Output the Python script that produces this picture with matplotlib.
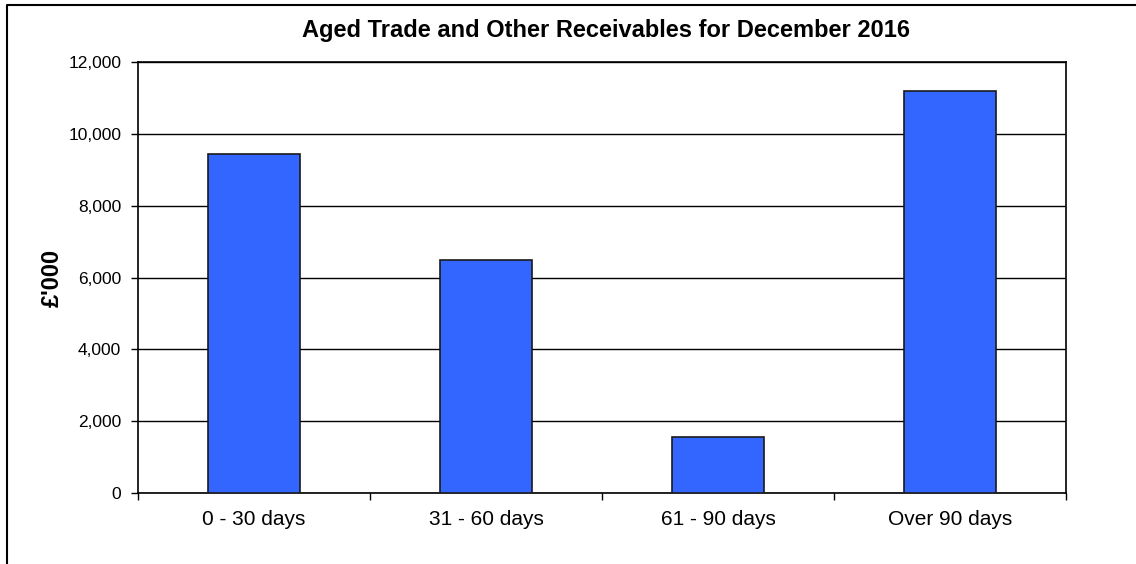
import matplotlib.pyplot as plt
from matplotlib.lines import Line2D
from matplotlib.ticker import FuncFormatter

categories = ['0 - 30 days', '31 - 60 days', '61 - 90 days', 'Over 90 days']
values = [9450, 6480, 1550, 11200]

plt.rcParams['font.family'] = ['Liberation Sans', 'DejaVu Sans']

fig = plt.figure(figsize=(11.36, 5.64), dpi=100)
ax = fig.add_axes([138 / 1136, 1 - 493 / 564, (1066 - 138) / 1136, (493 - 62) / 564])

# outer chart frame (only left and top edges fall inside the image)
fig.add_artist(Line2D([7 / 1136, 7 / 1136, 1.0], [0.0, 1 - 5 / 564, 1 - 5 / 564],
                      transform=fig.transFigure, color='black', lw=1.5))

x = range(len(categories))
ax.bar(x, values, width=0.4, color='#3366FF', edgecolor='#1a1a1a', linewidth=1.2, zorder=3)

ax.set_xlim(-0.5, len(categories) - 0.5)
ax.set_ylim(0, 12000)
ax.set_yticks(range(0, 12001, 2000))
ax.yaxis.set_major_formatter(FuncFormatter(lambda v, p: f'{int(v):,}'))
ax.grid(axis='y', color='black', lw=1, zorder=0)

ax.set_xticks(list(x))
ax.set_xticklabels(categories, fontsize=15)
ax.set_xticks([i - 0.5 for i in range(len(categories) + 1)], minor=True)
ax.tick_params(axis='x', which='major', length=0, pad=12)
ax.tick_params(axis='x', which='minor', length=5, width=1, direction='out')
ax.tick_params(axis='y', length=5, width=1, direction='out', labelsize=12.5, pad=7)

for s in ax.spines.values():
    s.set_linewidth(1.2)
    s.set_color('black')

ax.set_ylabel("£'000", fontsize=17, fontweight='bold', labelpad=3)
fig.text(606 / 1136, 1 - 30 / 564,
         'Aged Trade and Other Receivables for December 2016',
         ha='center', va='center', fontsize=17, fontweight='bold')

fig.savefig('out.png', dpi=100)
